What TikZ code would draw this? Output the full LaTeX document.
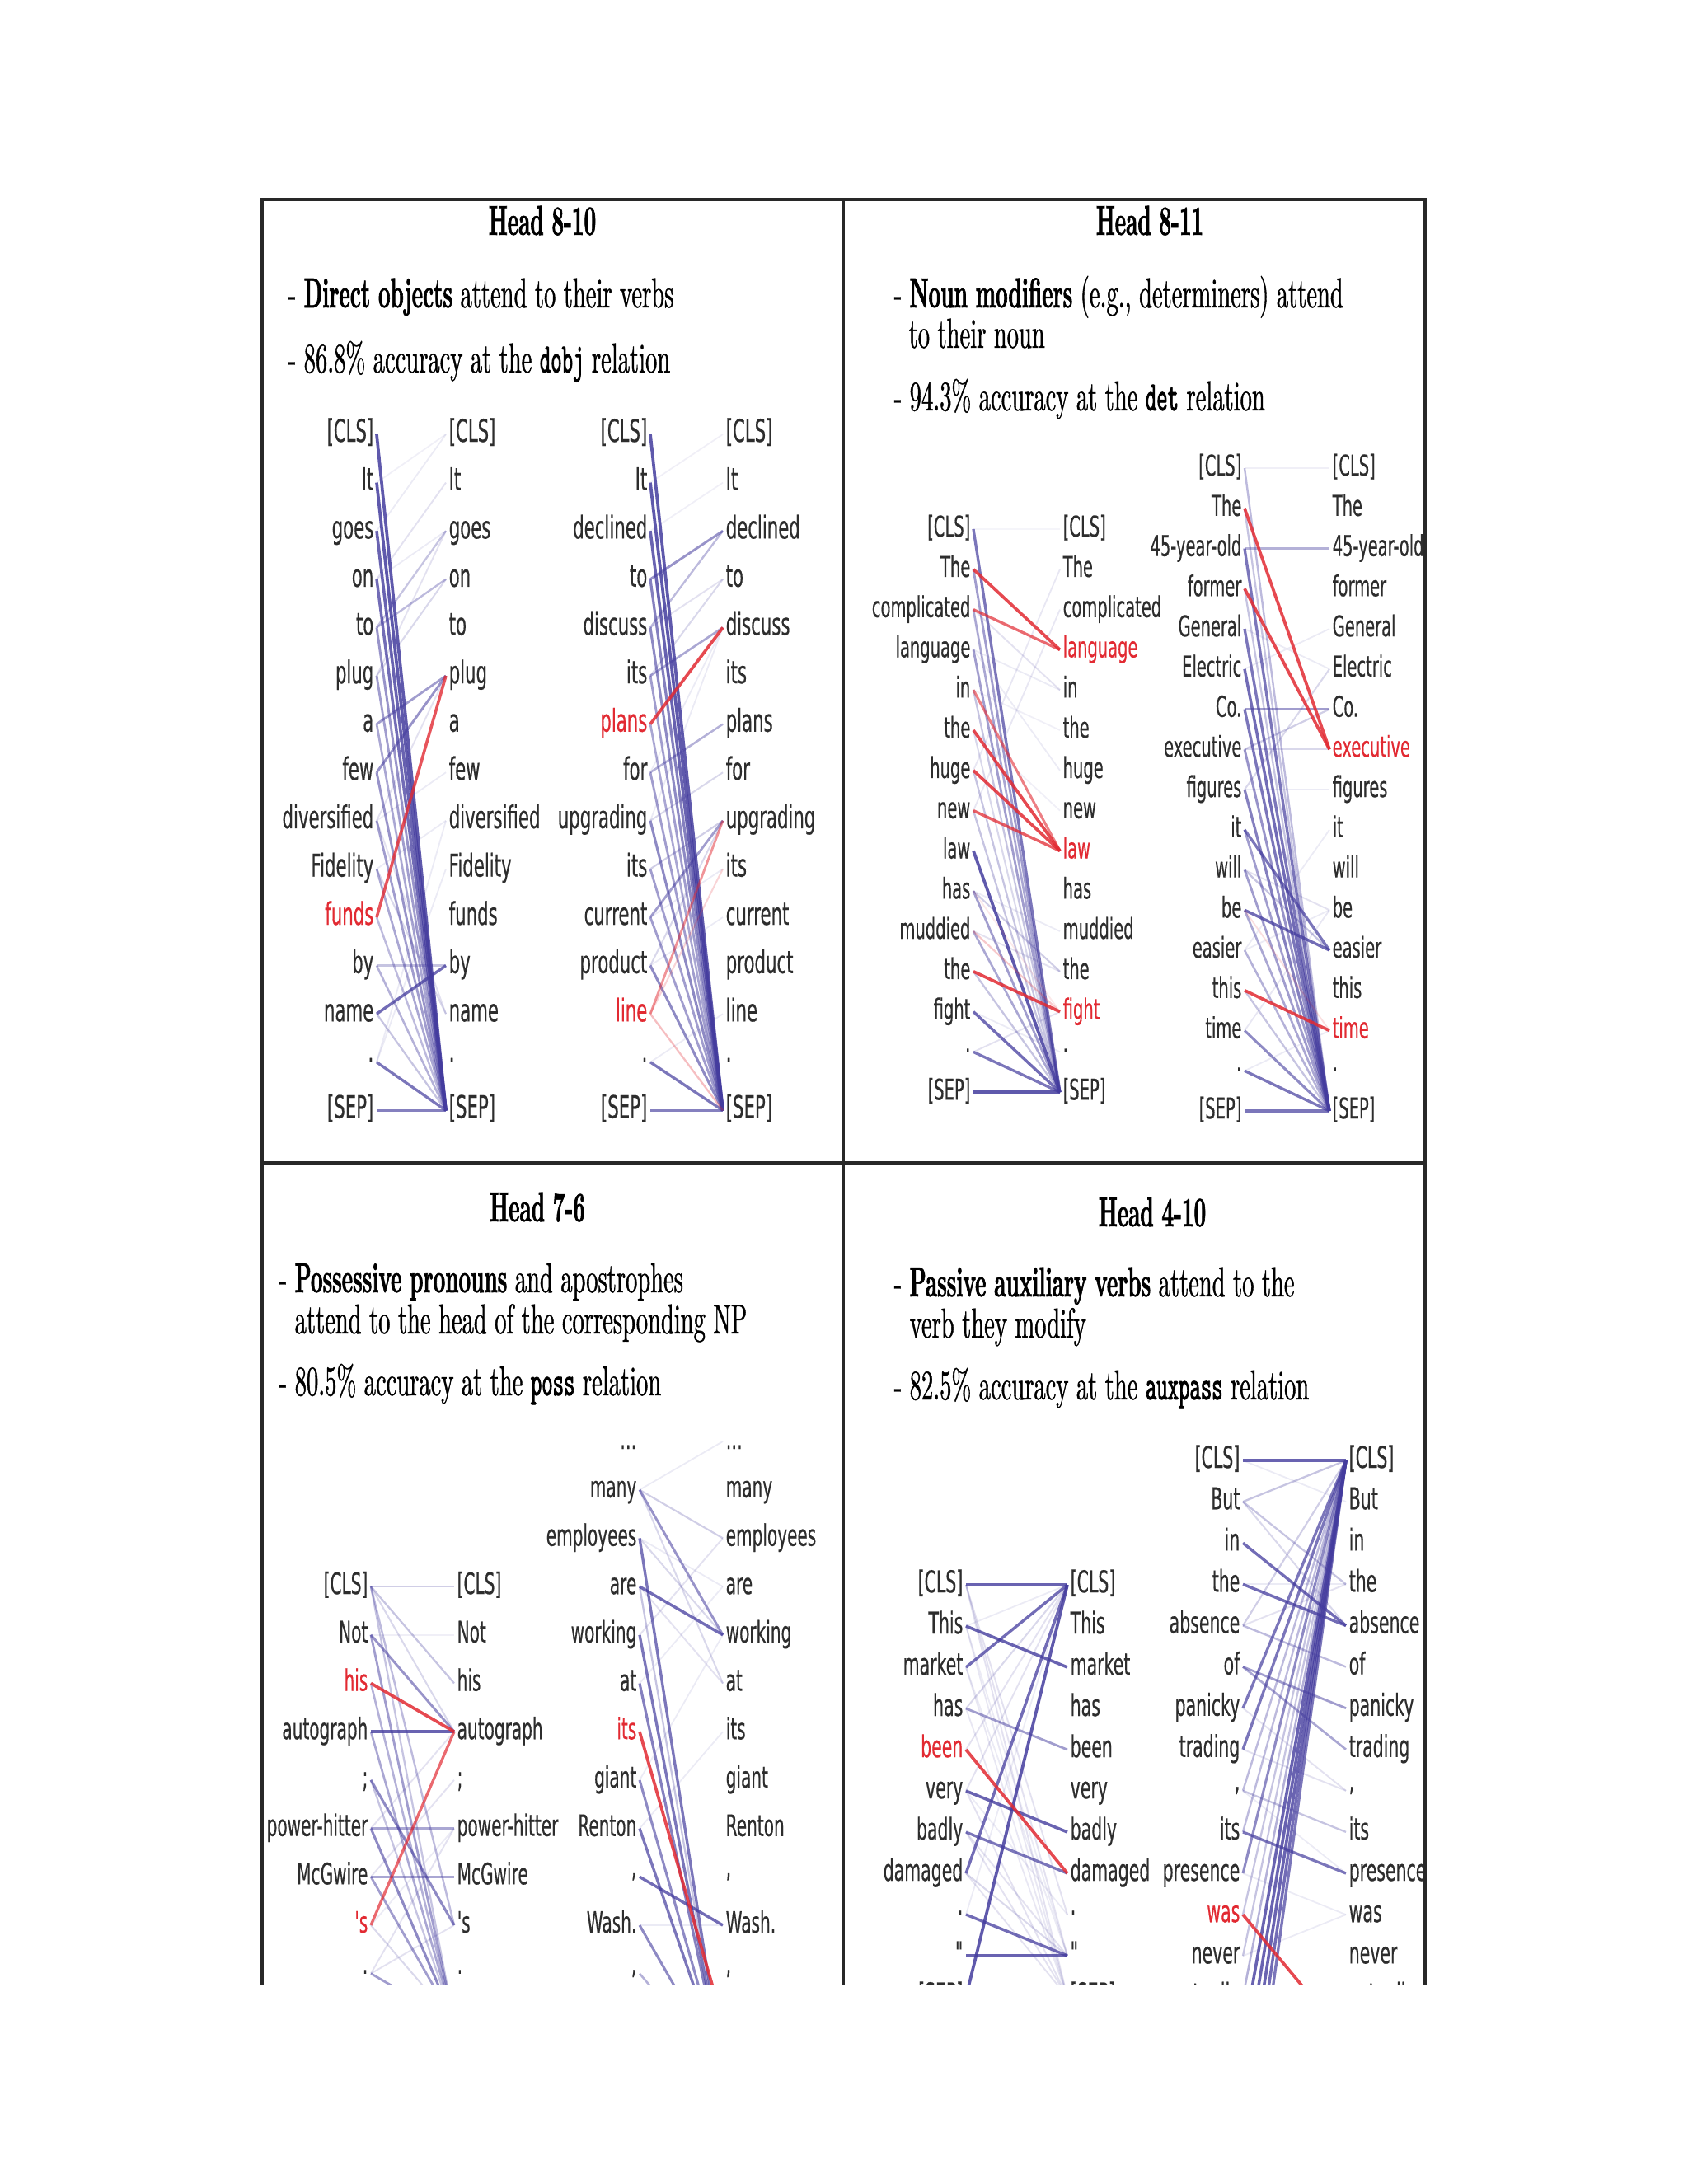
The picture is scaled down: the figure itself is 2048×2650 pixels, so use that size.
\documentclass[tikz,border=0pt]{standalone}
\usepackage{fontspec}
\usepackage{xcolor}
\newfontfamily\headfont{lmroman10-regular.otf}[FakeStretch=0.56,FakeBold=0.8]
\newfontfamily\headbold{lmroman10-bold.otf}[FakeStretch=0.5,FakeBold=1.2]
\newfontfamily\relfont{lmmono10-regular.otf}[FakeStretch=0.5,FakeBold=1.5]
\newfontfamily\tokfont{DejaVu Sans}[FakeStretch=0.56,FakeBold=0.4]
\definecolor{attblue}{RGB}{68,60,158}
\definecolor{attred}{RGB}{226,42,50}
\definecolor{framegray}{RGB}{40,40,40}
\definecolor{tokgray}{RGB}{45,45,45}
\begin{document}
\begin{tikzpicture}[x=0.1mm,y=-0.1mm,
  panel/.style={draw=framegray,line width=0.45mm},
  headtitle/.style={font=\headbold\fontsize{14.5}{17}\selectfont,anchor=base,inner sep=0},
  bullet/.style={font=\headfont\fontsize{14.5}{17}\selectfont,anchor=base west,inner sep=0},
  tokl/.style={font=\tokfont\fontsize{#1}{#1}\selectfont,text=tokgray,anchor=east,inner xsep=0.3mm,inner ysep=0,text height=0.74em,text depth=0.22em},
  tokr/.style={tokl=#1,anchor=west},
  blueln/.style={draw=attblue,opacity=#1,line width=0.15mm+0.26mm*#1},
  redln/.style={draw=attred,opacity=#1,line width=0.15mm+0.26mm*#1}]
\useasboundingbox (0,0) rectangle (2048,2650);
\fill[white] (0,0) rectangle (2048,2650);
\begin{scope}
\clip (0,0) rectangle (2048,2408);

\node[headtitle] (t1) at (658,285) {Head 8-10};
\node[bullet] (t1a) at (349,373) {- {\headbold Direct objects} attend to their verbs};
\node[bullet] (t1b) at (349,452) {- 86.8\% accuracy at the {\relfont dobj} relation};

\foreach \t [count=\i] in {{[CLS]},It,goes,on,to,plug,a,few,diversified,Fidelity,{\textcolor{attred}{funds}},by,name,{\raisebox{.25em}{.}},{[SEP]}}
  \node[tokl=10.8] (aL\i) at (457,{527+58.6*(\i-1)}) {\t};
\foreach \t [count=\i] in {{[CLS]},It,goes,on,to,plug,a,few,diversified,Fidelity,funds,by,name,{\raisebox{.25em}{.}},{[SEP]}}
  \node[tokr=10.8] (aR\i) at (541,{527+58.6*(\i-1)}) {\t};
\foreach \i/\j/\w in {1/15/.85,2/15/.85,3/15/.8,4/15/.75,5/15/.55,6/15/.5,7/15/.45,8/15/.55,9/15/.5,10/15/.45,11/15/.35,12/15/.4,13/15/.3,14/15/.7,15/15/.65,5/3/.3,5/4/.35,4/2/.15,3/1/.1,2/1/.08,4/3/.1,6/3/.15,6/4/.2,7/6/.5,8/6/.55,9/6/.15,9/8/.1,10/9/.1,10/13/.2,9/13/.15,12/12/.3,13/12/.75,14/9/.1,14/10/.1}
  \draw[blueln=\w] (aL\i.east) -- (aR\j.west);
\foreach \i/\j/\w in {11/6/.8}
  \draw[redln=\w] (aL\i.east) -- (aR\j.west);

\foreach \t [count=\i] in {{[CLS]},It,declined,to,discuss,its,{\textcolor{attred}{plans}},for,upgrading,its,current,product,{\textcolor{attred}{line}},{\raisebox{.25em}{.}},{[SEP]}}
  \node[tokl=10.8] (bL\i) at (789,{527+58.6*(\i-1)}) {\t};
\foreach \t [count=\i] in {{[CLS]},It,declined,to,discuss,its,plans,for,upgrading,its,current,product,line,{\raisebox{.25em}{.}},{[SEP]}}
  \node[tokr=10.8] (bR\i) at (877,{527+58.6*(\i-1)}) {\t};
\foreach \i/\j/\w in {1/15/.85,2/15/.85,3/15/.8,4/15/.65,5/15/.6,6/15/.5,7/15/.45,8/15/.5,9/15/.6,10/15/.5,11/15/.5,12/15/.6,14/15/.7,15/15/.65,2/1/.08,3/2/.08,4/3/.55,5/3/.35,5/4/.15,6/4/.2,6/5/.45,8/5/.1,8/7/.4,9/5/.1,9/8/.2,10/9/.25,11/9/.5,11/10/.1,12/9/.2,12/11/.1,14/13/.1}
  \draw[blueln=\w] (bL\i.east) -- (bR\j.west);
\foreach \i/\j/\w in {7/5/.85,13/9/.5,13/10/.2,13/15/.3}
  \draw[redln=\w] (bL\i.east) -- (bR\j.west);

\node[headtitle] (t2) at (1395,285) {Head 8-11};
\node[bullet] (t2a) at (1084,373) {- {\headbold Noun modifiers} (e.g., determiners) attend};
\node[bullet] (t2b) at (1102,422) {to their noun};
\node[bullet] (t2c) at (1084,498) {- 94.3\% accuracy at the {\relfont det} relation};

\foreach \t [count=\i] in {{[CLS]},The,complicated,language,in,the,huge,new,law,has,muddied,the,fight,{\raisebox{.25em}{.}},{[SEP]}}
  \node[tokl=9.9] (cL\i) at (1181,{642+48.8*(\i-1)}) {\t};
\foreach \t [count=\i] in {{[CLS]},The,complicated,{\textcolor{attred}{language}},in,the,huge,new,{\textcolor{attred}{law}},has,muddied,the,{\textcolor{attred}{fight}},{\raisebox{.25em}{.}},{[SEP]}}
  \node[tokr=9.9] (cR\i) at (1286,{642+48.8*(\i-1)}) {\t};
\foreach \i/\j/\w in {1/15/.7,2/15/.5,3/15/.45,4/15/.5,5/15/.3,6/15/.2,7/15/.3,8/15/.3,9/15/.85,10/15/.5,11/15/.45,12/15/.3,13/15/.75,14/15/.7,15/15/.85,1/1/.05,3/5/.15,4/5/.1,4/7/.1,5/6/.08,6/8/.08,7/2/.12,8/3/.12,10/11/.1,10/12/.25,11/12/.15,13/14/.1,14/13/.15}
  \draw[blueln=\w] (cL\i.east) -- (cR\j.west);
\foreach \i/\j/\w in {2/4/.85,3/4/.7,5/9/.6,6/9/.85,7/9/.85,8/9/.75,10/13/.1,11/13/.25,12/13/.85}
  \draw[redln=\w] (cL\i.east) -- (cR\j.west);

\foreach \t [count=\i] in {{[CLS]},The,45-year-old,former,General,Electric,Co.,executive,figures,it,will,be,easier,this,time,{\raisebox{.25em}{.}},{[SEP]}}
  \node[tokl=9.9] (dL\i) at (1510,{568+48.75*(\i-1)}) {\t};
\foreach \t [count=\i] in {{[CLS]},The,45-year-old,former,General,Electric,Co.,{\textcolor{attred}{executive}},figures,it,will,be,easier,this,{\textcolor{attred}{time}},{\raisebox{.25em}{.}},{[SEP]}}
  \node[tokr=9.9] (dR\i) at (1613,{568+48.75*(\i-1)}) {\t};
\foreach \i/\j/\w in {1/1/.08,1/17/.35,2/17/.3,3/3/.4,3/17/.7,4/17/.3,5/6/.1,5/17/.7,6/5/.1,6/17/.75,7/7/.5,7/17/.7,8/7/.25,8/8/.2,8/17/.55,9/6/.2,9/9/.1,9/17/.65,10/13/.7,10/17/.5,11/12/.15,11/13/.3,11/17/.5,12/13/.75,12/17/.45,13/10/.1,13/12/.1,13/17/.4,14/17/.3,15/12/.12,15/17/.6,16/15/.1,16/17/.7,17/17/.7}
  \draw[blueln=\w] (dL\i.east) -- (dR\j.west);
\foreach \i/\j/\w in {2/8/.85,4/8/.85,12/15/.15,14/15/.85}
  \draw[redln=\w] (dL\i.east) -- (dR\j.west);

\node[headtitle] (t3) at (652,1482) {Head 7-6};
\node[bullet] (t3a) at (338,1568) {- {\headbold Possessive pronouns} and apostrophes};
\node[bullet] (t3b) at (357,1618) {attend to the head of the corresponding NP};
\node[bullet] (t3c) at (338,1693) {- 80.5\% accuracy at the {\relfont poss} relation};

\foreach \t [count=\i] in {{[CLS]},Not,{\textcolor{attred}{his}},autograph,;,power-hitter,McGwire,{\textcolor{attred}{'s}},{\raisebox{.25em}{.}},{}}
  \node[tokl=10.2] (eL\i) at (450,{1925+58.7*(\i-1)}) {\t};
\foreach \t [count=\i] in {{[CLS]},Not,his,autograph,;,power-hitter,McGwire,'s,{\raisebox{.25em}{.}},{}}
  \node[tokr=10.2] (eR\i) at (551,{1925+58.7*(\i-1)}) {\t};
\foreach \i/\j/\w in {1/1/.25,1/3/.3,1/4/.2,1/8/.35,1/10/.3,2/2/.08,2/4/.55,2/10/.5,3/10/.4,4/4/.8,4/10/.45,5/8/.6,5/10/.3,6/4/.15,6/6/.45,6/10/.6,7/5/.15,7/7/.45,7/10/.5,8/6/.1,8/10/.2,9/6/.15,9/8/.15,9/10/.5}
  \draw[blueln=\w] (eL\i.east) -- (eR\j.west);
\foreach \i/\j/\w in {3/4/.85,8/4/.7}
  \draw[redln=\w] (eL\i.east) -- (eR\j.west);

\foreach \t [count=\i] in {{\ldots},many,employees,are,working,at,{\textcolor{attred}{its}},giant,Renton,{\raisebox{.25em}{,}},Wash.,{\raisebox{.25em}{,}},{},{}}
  \node[tokl=10.2] (fL\i) at (776,{1749+58.7*(\i-1)}) {\t};
\foreach \t [count=\i] in {{\ldots},many,employees,are,working,at,its,giant,Renton,{\raisebox{.25em}{,}},Wash.,{\raisebox{.25em}{,}},{},{}}
  \node[tokr=10.2] (fR\i) at (877,{1749+58.7*(\i-1)}) {\t};
\foreach \i/\j/\w in {2/1/.1,2/3/.25,2/5/.55,2/6/.2,3/4/.1,3/5/.2,3/14/.7,4/5/.75,4/6/.15,4/14/.3,5/3/.15,5/14/.7,6/4/.1,6/14/.65,8/5/.1,8/14/.6,9/7/.1,9/14/.7,10/11/.75,11/11/.1,11/14/.6,12/14/.4}
  \draw[blueln=\w] (fL\i.east) -- (fR\j.west);
\foreach \i/\j/\w in {7/13/.85}
  \draw[redln=\w] (fL\i.east) -- (fR\j.west);

\node[headtitle] (t4) at (1398,1488) {Head 4-10};
\node[bullet] (t4a) at (1084,1573) {- {\headbold Passive auxiliary verbs} attend to the};
\node[bullet] (t4b) at (1103,1623) {verb they modify};
\node[bullet] (t4c) at (1084,1698) {- 82.5\% accuracy at the {\relfont auxpass} relation};

\foreach \t [count=\i] in {{[CLS]},This,market,has,{\textcolor{attred}{been}},very,badly,damaged,{\raisebox{.25em}{.}},{"},{[SEP]}}
  \node[tokl=10.4] (gL\i) at (1172,{1923+50*(\i-1)}) {\t};
\foreach \t [count=\i] in {{[CLS]},This,market,has,been,very,badly,damaged,{\raisebox{.25em}{.}},{"},{[SEP]}}
  \node[tokr=10.4] (gR\i) at (1295,{1923+50*(\i-1)}) {\t};
\foreach \i/\j/\w in {1/1/.8,1/9/.15,1/10/.15,1/11/.15,2/1/.1,2/3/.8,2/10/.1,2/11/.12,3/1/.75,3/10/.1,3/11/.12,4/1/.2,4/5/.5,4/11/.12,5/1/.15,6/1/.15,6/7/.8,6/9/.1,6/11/.15,7/8/.7,7/10/.15,7/11/.15,8/1/.75,8/10/.2,8/11/.15,9/1/.1,9/10/.75,10/10/.8,11/1/.85}
  \draw[blueln=\w] (gL\i.east) -- (gR\j.west);
\foreach \i/\j/\w in {5/8/.85}
  \draw[redln=\w] (gL\i.east) -- (gR\j.west);

\foreach \t [count=\i] in {{[CLS]},But,in,the,absence,of,panicky,trading,{\raisebox{.25em}{,}},its,presence,{\textcolor{attred}{was}},never,actually,{},{},{},{},{}}
  \node[tokl=10.4] (hL\i) at (1508,{1772+50.1*(\i-1)}) {\t};
\foreach \t [count=\i] in {{[CLS]},But,in,the,absence,of,panicky,trading,{\raisebox{.25em}{,}},its,presence,was,never,actually,{}}
  \node[tokr=10.4] (hR\i) at (1633,{1772+50.1*(\i-1)}) {\t};
\foreach \i/\j/\w in {1/1/.8,1/2/.1,2/1/.3,2/4/.3,2/5/.2,3/5/.75,4/4/.1,4/5/.75,5/1/.25,5/4/.15,5/6/.35,6/7/.5,6/8/.45,7/1/.7,7/9/.15,8/1/.7,8/9/.15,9/1/.35,9/10/.3,9/11/.1,10/1/.35,10/11/.7,11/1/.6,11/12/.1,12/1/.3,13/1/.3,13/12/.1,14/1/.4,15/1/.8,16/1/.8,17/1/.8,18/1/.75,19/1/.7}
  \draw[blueln=\w] (hL\i.east) -- (hR\j.west);
\foreach \i/\j/\w in {12/15/.85}
  \draw[redln=\w] (hL\i.east) -- (hR\j.west);
\end{scope}

\draw[panel] (318,2408) -- (318,242) -- (1729,242) -- (1729,2408);
\draw[panel] (1023,242) -- (1023,2408);
\draw[panel] (318,1411) -- (1729,1411);
\end{tikzpicture}
\end{document}
